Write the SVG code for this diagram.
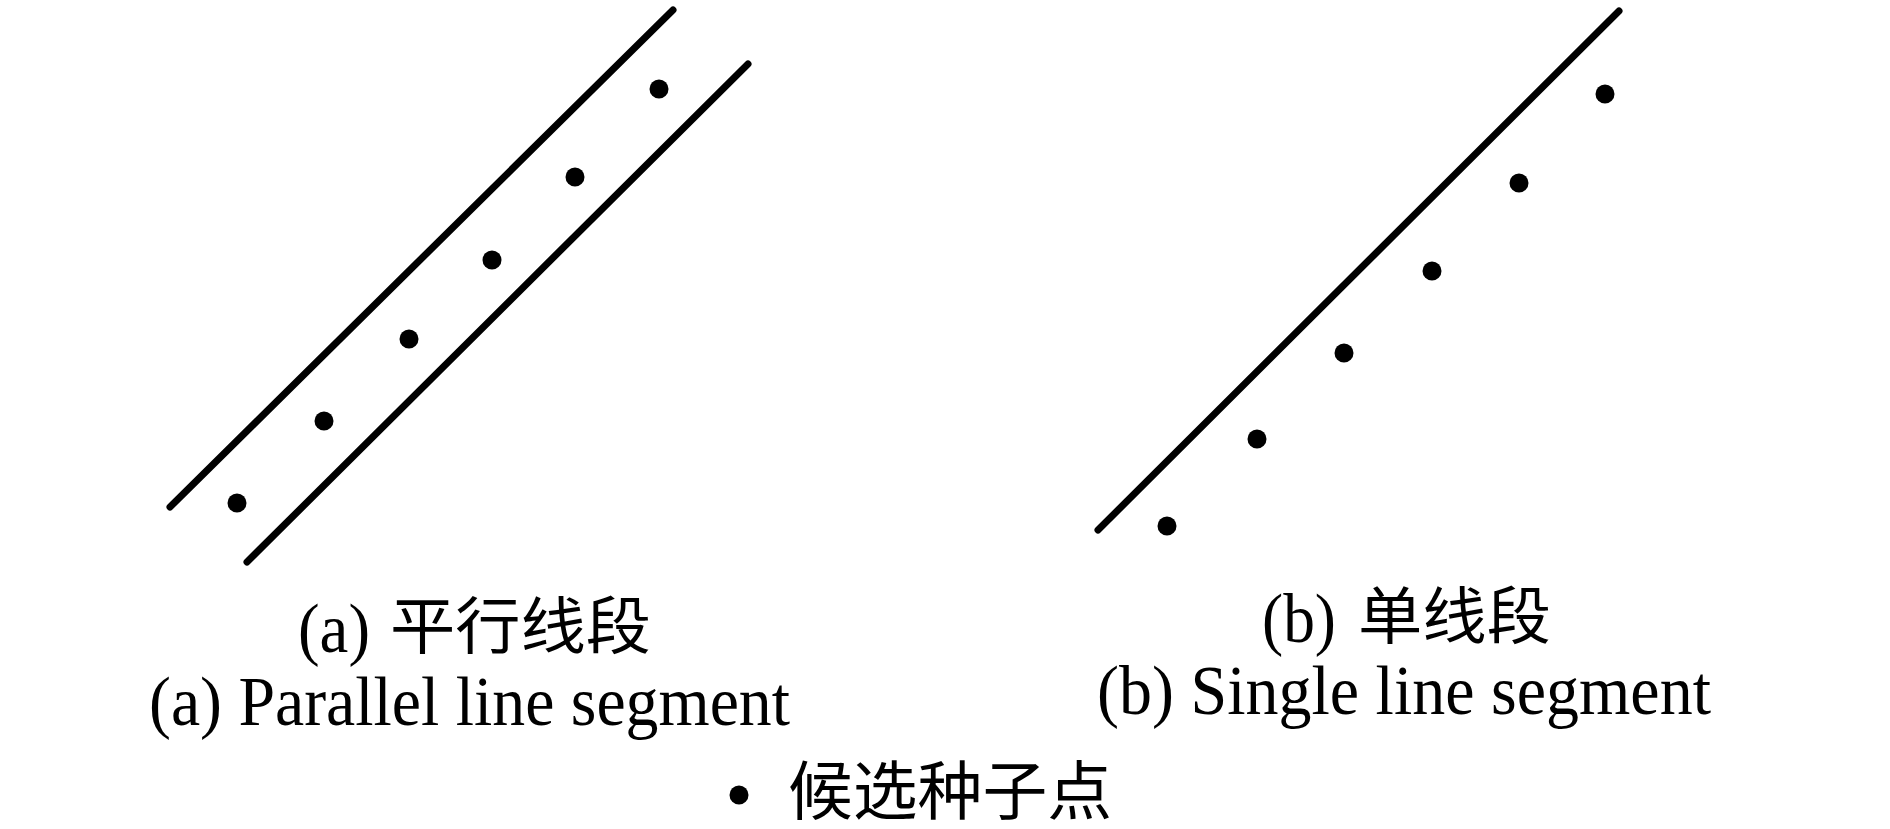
<svg xmlns="http://www.w3.org/2000/svg" width="1890" height="829" viewBox="0 0 1890 829">
<style>
.ln{stroke:#000;stroke-width:7;stroke-linecap:round;fill:none}
.dot{fill:#000}
.lat{font-family:"Liberation Serif","Times New Roman",serif;font-size:70px;fill:#000}
.cjk{font-family:"Noto Sans CJK SC","Noto Sans CJK JP",sans-serif;font-size:62px;fill:#000;font-weight:400}
</style>
<rect width="1890" height="829" fill="#fff"/>
<g id="lines">
<line class="ln" x1="170" y1="507" x2="673" y2="10"/>
<line class="ln" x1="247" y1="562" x2="748" y2="64"/>
<line class="ln" x1="1098" y1="530" x2="1619" y2="11"/>
</g>
<g id="dots-a">
<circle class="dot" cx="237" cy="503" r="9.5"/>
<circle class="dot" cx="324" cy="421" r="9.5"/>
<circle class="dot" cx="409" cy="339" r="9.5"/>
<circle class="dot" cx="492" cy="260" r="9.5"/>
<circle class="dot" cx="575" cy="177" r="9.5"/>
<circle class="dot" cx="659" cy="89" r="9.5"/>
</g>
<g id="dots-b">
<circle class="dot" cx="1167" cy="526" r="9.5"/>
<circle class="dot" cx="1257" cy="439" r="9.5"/>
<circle class="dot" cx="1344" cy="353" r="9.5"/>
<circle class="dot" cx="1432" cy="271" r="9.5"/>
<circle class="dot" cx="1519" cy="183" r="9.5"/>
<circle class="dot" cx="1605" cy="94" r="9.5"/>
</g>
<g id="caption-a">
<text class="lat" x="298" y="652" textLength="72" lengthAdjust="spacingAndGlyphs">(a)</text>
<text class="cjk" x="390" y="649" textLength="261" lengthAdjust="spacingAndGlyphs">平行线段</text>
<text class="lat" x="149" y="725" textLength="641" lengthAdjust="spacingAndGlyphs">(a) Parallel line segment</text>
</g>
<g id="caption-b">
<text class="lat" x="1262" y="642" textLength="74" lengthAdjust="spacingAndGlyphs">(b)</text>
<text class="cjk" x="1358" y="639" textLength="193" lengthAdjust="spacingAndGlyphs">单线段</text>
<text class="lat" x="1097" y="714" textLength="614" lengthAdjust="spacingAndGlyphs">(b) Single line segment</text>
</g>
<g id="legend">
<circle class="dot" cx="739" cy="795" r="9.5"/>
<text class="cjk" x="788" y="814" style="font-size:64px" textLength="324" lengthAdjust="spacingAndGlyphs">候选种子点</text>
</g>
</svg>
